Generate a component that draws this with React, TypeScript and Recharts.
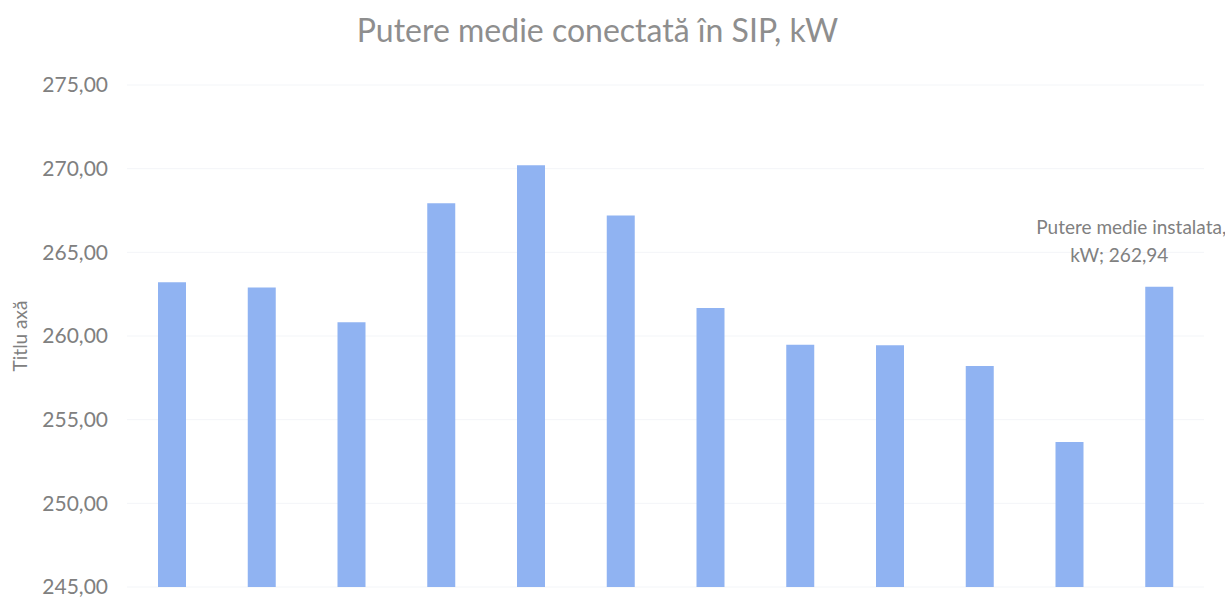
import { BarChart, Bar, XAxis, YAxis, CartesianGrid, LabelList } from 'recharts';

const categories = ['1', '2', '3', '4', '5', '6', '7', '8', '9', '10', '11', '12'];
const putere = [263.21, 262.9, 260.82, 267.93, 270.21, 267.2, 261.67, 259.48, 259.45, 258.21, 253.67, 262.94];
const yTicks = [245, 250, 255, 260, 265, 270, 275];

const seriesName = 'Putere medie instalata, kW';
const data = categories.map((c, i) => ({ name: c, value: putere[i] }));

const font = 'Lato, "Open Sans", sans-serif';
const gray = '#808080';

const fmt = (v: number) => v.toFixed(2).replace('.', ',');

// only the last column carries a data label, two lines: series name; value
function LastLabel(props: any) {
  const { x, y, width, value, index } = props;
  if (index !== putere.length - 1) return null;
  const cx = x + width / 2 - 40;
  return (
    <g fill={gray} fontFamily={font} fontSize={19} fontWeight={400}>
      <text x={cx + 12} y={y - 53} textAnchor="middle">
        Putere medie instalata,
      </text>
      <text x={cx} y={y - 25} textAnchor="middle">
        {`kW; ${fmt(value)}`}
      </text>
    </g>
  );
}

function AxisTitle(props: any) {
  const { viewBox } = props;
  const cy = viewBox.y + viewBox.height / 2;
  return (
    <text
      x={27}
      y={cy}
      transform={`rotate(-90, 27, ${cy})`}
      textAnchor="middle"
      fill={gray}
      fontFamily={font}
      fontSize={19}
    >
      Titlu axă
    </text>
  );
}

export default function App() {
  return (
    <div style={{ position: 'absolute', left: 0, top: 0, width: 1225, height: 612, background: '#fff' }}>
      <div
        style={{
          position: 'absolute',
          left: 0,
          top: 10,
          width: 1195,
          textAlign: 'center',
          fontFamily: font,
          fontSize: 32,
          color: '#8e8e8e',
        }}
      >
        Putere medie conectată în SIP, kW
      </div>
      <BarChart
        width={1225}
        height={612}
        data={data}
        margin={{ top: 85, right: 21, bottom: 25, left: 0 }}
        barSize={28}
      >
        <CartesianGrid vertical={false} stroke="#f3f5f8" />
        <XAxis dataKey="name" hide />
        <YAxis
          width={127}
          domain={[245, 275]}
          ticks={yTicks}
          allowDataOverflow
          axisLine={false}
          tickLine={false}
          tickSize={0}
          tickMargin={19}
          tickFormatter={fmt}
          tick={{ fill: gray, fontSize: 21, fontFamily: font }}
          label={<AxisTitle />}
        />
        <Bar dataKey="value" name={seriesName} fill="#90b3f2" isAnimationActive={false}>
          <LabelList dataKey="value" content={<LastLabel />} />
        </Bar>
      </BarChart>
    </div>
  );
}
